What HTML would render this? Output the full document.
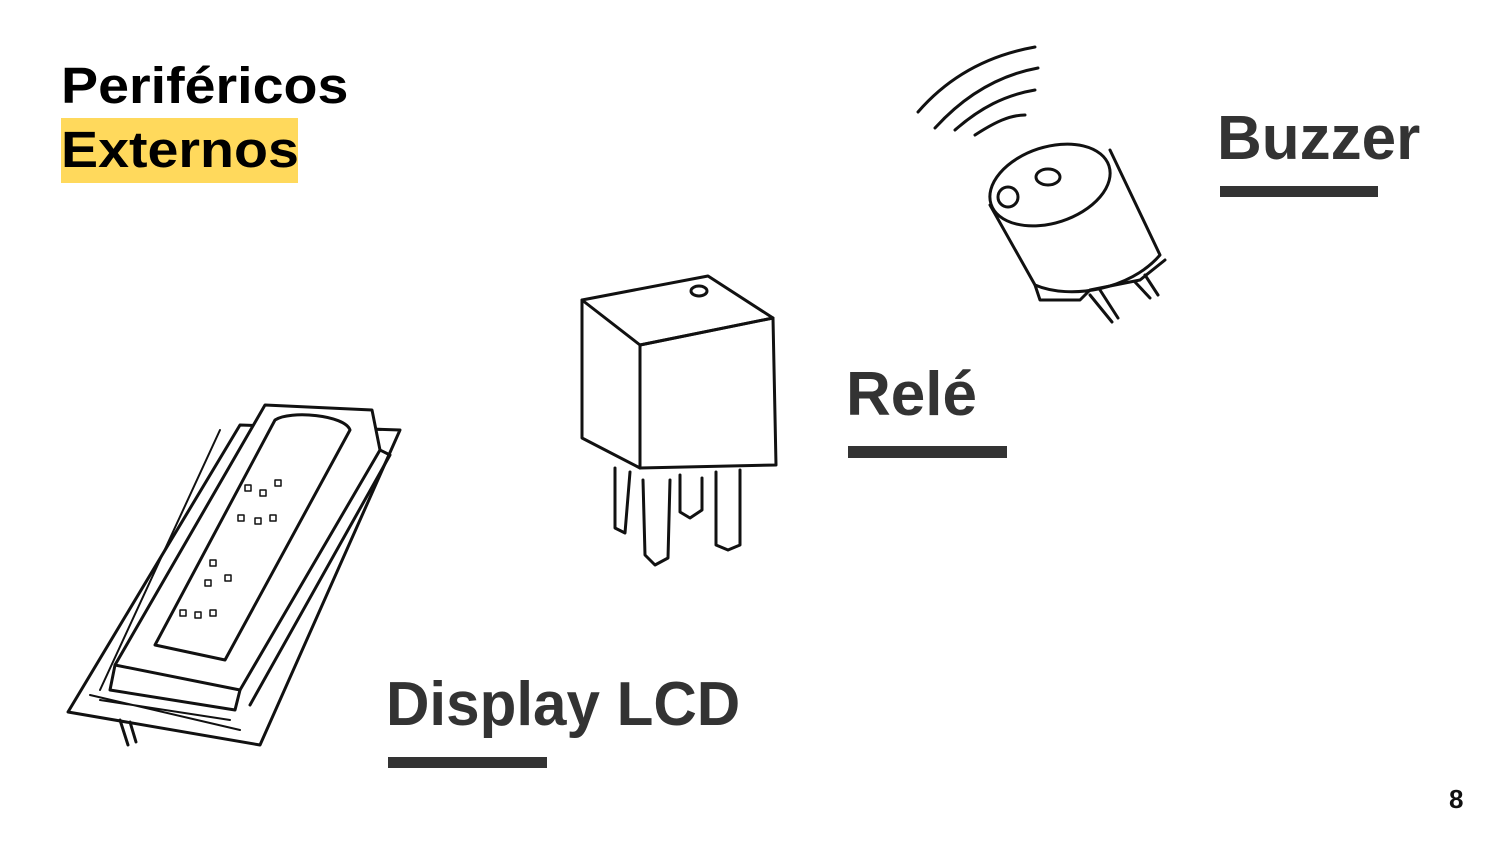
<!DOCTYPE html>
<html><head><meta charset="utf-8"><style>
html,body{margin:0;padding:0;background:#fff;}
#slide{position:relative;width:1500px;height:844px;overflow:hidden;background:#fff;font-family:"Liberation Sans",sans-serif;}
.t{position:absolute;font-weight:bold;white-space:nowrap;transform-origin:0 0;}
.bar{position:absolute;background:#333;}
</style></head><body>
<div id="slide">
  <div class="t" style="left:61px;top:56px;font-size:51px;line-height:60px;color:#000;transform:scaleX(1.09);">Periféricos</div>
  <div style="position:absolute;left:61px;top:118px;width:237px;height:65px;background:#FFD95C;"></div>
  <div class="t" style="left:61px;top:120px;font-size:51px;line-height:60px;color:#000;transform:scaleX(1.09);">Externos</div>

  <div class="t" style="left:1217px;top:104px;font-size:62px;line-height:70px;color:#333;">Buzzer</div>
  <div class="bar" style="left:1220px;top:186px;width:158px;height:11px;"></div>
  <div class="t" style="left:846px;top:360px;font-size:62px;line-height:70px;color:#333;">Relé</div>
  <div class="bar" style="left:848px;top:446px;width:159px;height:12px;"></div>
  <div class="t" style="left:386px;top:670px;font-size:62px;line-height:70px;color:#333;transform:scaleX(0.97);">Display LCD</div>
  <div class="bar" style="left:388px;top:757px;width:159px;height:11px;"></div>
  <div class="t" style="left:1449px;top:784px;font-size:26px;line-height:30px;color:#111;">8</div>

  <svg width="1500" height="844" style="position:absolute;left:0;top:0" fill="none" stroke="#111" stroke-width="3" stroke-linejoin="round" stroke-linecap="round">
    <g>
      <path d="M582,300 L708,276 L773,318 L640,345 Z" fill="#fff"/>
      <path d="M582,300 L582,438 L640,468 L640,345"/>
      <path d="M640,345 L773,318 L776,465 L640,468"/>
      <ellipse cx="699" cy="291" rx="8" ry="5"/>
      <path d="M615,468 L615,528 L625,533 L630,472"/>
      <path d="M643,480 L645,555 L655,565 L668,558 L670,480"/>
      <path d="M680,475 L680,512 L690,518 L702,510 L702,478"/>
      <path d="M716,472 L716,545 L728,550 L740,545 L740,470"/>
    </g>
    <g>
      <path d="M918,112 C950,75 990,55 1035,47"/>
      <path d="M935,128 C965,95 1000,75 1038,68"/>
      <path d="M955,130 C980,108 1005,95 1035,90"/>
      <path d="M975,135 C995,122 1010,115 1025,115"/>
      <ellipse cx="1050" cy="185" rx="62" ry="38" transform="rotate(-18 1050 185)" fill="#fff"/>
      <path d="M990,205 L1035,285 C1070,300 1130,290 1160,255 L1110,150"/>
      <path d="M1035,285 L1040,300 L1080,300 L1090,290 L1140,280 L1165,260"/>
      <ellipse cx="1048" cy="177" rx="12" ry="8"/>
      <circle cx="1008" cy="197" r="10"/>
      <path d="M1090,295 L1112,322 M1100,290 L1118,318"/>
      <path d="M1135,282 L1150,298 M1145,275 L1158,295"/>
    </g>
    <g>
      <path d="M240,425 L400,430 L260,745 L68,712 Z" fill="#fff"/>
      <path d="M265,405 L372,410 L380,450 L240,690 L115,665 Z" fill="#fff"/>
      <path d="M275,420 C290,410 345,415 350,430 L225,660 L155,645 Z"/>
      <path d="M115,665 L110,690 L235,710 L240,690"/>
      <path d="M380,450 L390,455 L250,705"/>
      <path d="M120,720 L128,745 M130,722 L136,742"/>
      <g stroke-width="2">
        <path d="M100,700 L230,720 M90,695 L240,730 M220,430 L100,690"/>
      </g>
      <g stroke-width="1.5">
        <rect x="245" y="485" width="6" height="6"/><rect x="260" y="490" width="6" height="6"/>
        <rect x="275" y="480" width="6" height="6"/><rect x="238" y="515" width="6" height="6"/>
        <rect x="255" y="518" width="6" height="6"/><rect x="270" y="515" width="6" height="6"/>
        <rect x="210" y="560" width="6" height="6"/><rect x="225" y="575" width="6" height="6"/>
        <rect x="205" y="580" width="6" height="6"/><rect x="180" y="610" width="6" height="6"/>
        <rect x="195" y="612" width="6" height="6"/><rect x="210" y="610" width="6" height="6"/>
      </g>
    </g>
  </svg>
</div>
</body></html>
